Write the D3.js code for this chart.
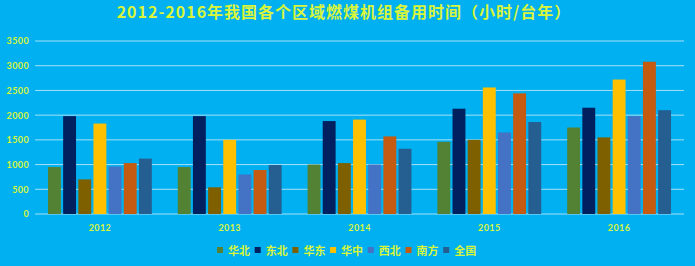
<!DOCTYPE html>
<html>
<head>
<meta charset="utf-8">
<script src="https://cdn.jsdelivr.net/npm/d3@7"></script>
<style>
  body { margin: 0; background: #00b0f0; }
  svg { display: block; }
</style>
</head>
<body>
<div id="chart"></div>
<script>
const years = ['2012', '2013', '2014', '2015', '2016'];
const regions = ['华北', '东北', '华东', '华中', '西北', '南方', '全国'];
const colors = ['#548235', '#002060', '#7f6000', '#ffc000', '#4472c4', '#c55a11', '#255e91'];
const yTicks = [0, 500, 1000, 1500, 2000, 2500, 3000, 3500];

// hours per unit per year, one array per region
const huabei   = [950, 950, 1000, 1460, 1750];
const dongbei  = [1980, 1980, 1880, 2130, 2150];
const huadong  = [700, 540, 1030, 1500, 1550];
const huazhong = [1830, 1500, 1910, 2560, 2720];
const xibei    = [960, 800, 1000, 1650, 1980];
const nanfang  = [1030, 890, 1570, 2440, 3080];
const quanguo  = [1120, 990, 1320, 1860, 2100];
const series = [huabei, dongbei, huadong, huazhong, xibei, nanfang, quanguo];

const W = 695, H = 266;
const txt = '#d8f53c';
const numFont = 'Lato, "Open Sans", sans-serif';
const cjkFont = '"Noto Sans CJK SC", sans-serif';

const svg = d3.select('#chart').append('svg')
    .attr('width', W).attr('height', H);

svg.append('rect').attr('width', W).attr('height', H).attr('fill', '#00b0f0');

svg.append('text')
    .attr('x', 344).attr('y', 18)
    .attr('text-anchor', 'middle')
    .attr('font-family', cjkFont)
    .attr('font-weight', 'bold')
    .attr('font-size', 16)
    .attr('letter-spacing', 1)
    .attr('fill', txt)
    .text('2012-2016年我国各个区域燃煤机组备用时间（小时/台年）');

const x0 = d3.scaleBand().domain(years).range([35, 684])
    .paddingInner(0.2).paddingOuter(0.1);
const x1 = d3.scaleBand().domain(d3.range(regions.length))
    .range([0, x0.bandwidth()]).paddingInner(0.15);
const y = d3.scaleLinear().domain([0, 3500]).range([214, 41]);

// gridlines
svg.append('g').selectAll('line').data(yTicks).join('line')
    .attr('x1', 35).attr('x2', 684)
    .attr('y1', d => y(d)).attr('y2', d => y(d))
    .attr('stroke', '#a6e0f7').attr('stroke-width', 1);

// y axis labels
const yAxis = svg.append('g')
    .attr('transform', 'translate(29,0)')
    .call(d3.axisLeft(y).tickValues(yTicks).tickFormat(d3.format('d')).tickSize(0).tickPadding(0));
yAxis.select('.domain').remove();
yAxis.selectAll('text')
    .attr('fill', txt).attr('font-family', numFont)
    .attr('font-weight', 'bold').attr('font-size', 9)
    .attr('letter-spacing', 0.4);

// x axis labels
const xAxis = svg.append('g')
    .attr('transform', 'translate(0,214)')
    .call(d3.axisBottom(x0).tickSize(0).tickPadding(11));
xAxis.select('.domain').remove();
xAxis.selectAll('text')
    .attr('fill', txt).attr('font-family', numFont)
    .attr('font-weight', 'bold').attr('font-size', 9)
    .attr('letter-spacing', 0.4);

// bars
const groups = svg.append('g').selectAll('g').data(years).join('g')
    .attr('transform', d => `translate(${x0(d)},0)`);
groups.selectAll('rect')
    .data((d, i) => series.map((s, k) => ({ k: k, v: s[i] })))
    .join('rect')
    .attr('x', d => x1(d.k))
    .attr('width', x1.bandwidth())
    .attr('y', d => y(d.v))
    .attr('height', d => y(0) - y(d.v))
    .attr('fill', d => colors[d.k]);

// legend
const legend = svg.append('g').attr('transform', 'translate(217,251)');
regions.forEach((r, i) => {
    const g = legend.append('g').attr('transform', `translate(${i * 37.7},0)`);
    g.append('rect').attr('x', 0).attr('y', -4).attr('width', 6).attr('height', 6)
        .attr('fill', colors[i]);
    g.append('text').attr('x', 11).attr('y', 3.5)
        .attr('font-family', cjkFont).attr('font-weight', 'bold')
        .attr('font-size', 11).attr('fill', txt)
        .text(r);
});
</script>
</body>
</html>
